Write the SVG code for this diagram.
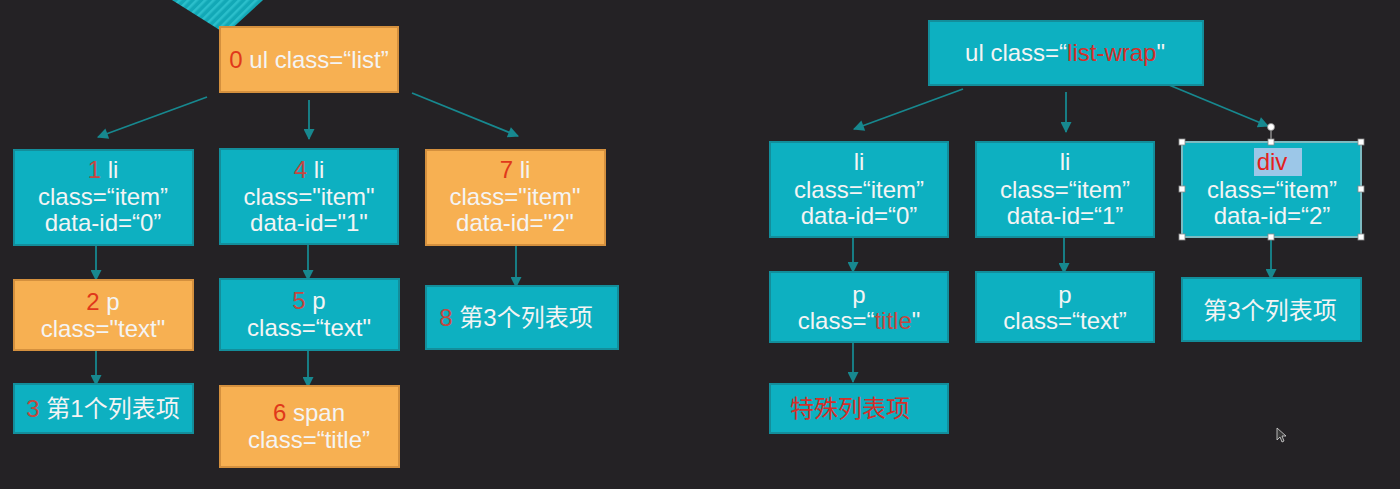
<svg xmlns="http://www.w3.org/2000/svg" width="1400" height="489" viewBox="0 0 1400 489">
<defs>
<style>
.t{fill:#0DB0C1;stroke:#138E9B;stroke-width:2}
.o{fill:#F7B052;stroke:#D4903E;stroke-width:2}
text{font-family:"Liberation Sans","Noto Sans CJK SC",sans-serif;font-size:24px;fill:#F4F4F4;text-anchor:middle}
.r{fill:#E0381A}
.rt{fill:#C4473F}
.rw{fill:#D42F2A}
.c{stroke:#17888F;stroke-width:1.8;fill:none;marker-end:url(#ah)}
.h{fill:#FFFFFF;stroke:#8A8A8A;stroke-width:0.8}
</style>
<marker id="ah" viewBox="0 0 10 10" refX="9" refY="5" markerWidth="12" markerHeight="11" markerUnits="userSpaceOnUse" orient="auto">
<path d="M0,0 L10,5 L0,10 z" fill="#17888F"/>
</marker>
<pattern id="stripes" width="6" height="6" patternUnits="userSpaceOnUse" patternTransform="rotate(45)">
<rect width="6" height="6" fill="#12A8B6"/>
<rect width="2.5" height="6" fill="#2BBFCB"/>
</pattern>
</defs>
<rect width="1400" height="489" fill="#242225"/>
<polygon points="172,0 263,0 226,34" fill="url(#stripes)"/>

<g id="connectors">
<line class="c" x1="207" y1="97" x2="98" y2="137"/>
<line class="c" x1="309" y1="100" x2="309" y2="139"/>
<line class="c" x1="412" y1="93" x2="518" y2="136"/>
<line class="c" x1="96" y1="245" x2="96" y2="280"/>
<line class="c" x1="96" y1="350" x2="96" y2="385"/>
<line class="c" x1="308" y1="245" x2="308" y2="280"/>
<line class="c" x1="308" y1="350" x2="308" y2="387"/>
<line class="c" x1="516" y1="245" x2="516" y2="287"/>
<line class="c" x1="963" y1="89" x2="854" y2="129"/>
<line class="c" x1="1066" y1="92" x2="1066" y2="132"/>
<line class="c" x1="1169" y1="85" x2="1268" y2="126"/>
<line class="c" x1="853" y1="237" x2="853" y2="272"/>
<line class="c" x1="853" y1="342" x2="853" y2="382"/>
<line class="c" x1="1064" y1="237" x2="1064" y2="273"/>
<line class="c" x1="1271" y1="237" x2="1271" y2="279"/>
</g>

<g id="n0"><rect class="o" x="220" y="27" width="178" height="65"/>
<text x="309" y="68"><tspan class="r">0</tspan> ul class=“list”</text></g>

<g id="n1"><rect class="t" x="14" y="150" width="179" height="95"/>
<text x="103" y="178"><tspan class="rt">1</tspan> li</text>
<text x="103" y="205">class=“item”</text>
<text x="103" y="231">data-id=“0”</text></g>

<g id="n4"><rect class="t" x="220" y="149" width="178" height="95"/>
<text x="309" y="178"><tspan class="rt">4</tspan> li</text>
<text x="309" y="205">class="item"</text>
<text x="309" y="231">data-id="1"</text></g>

<g id="n7"><rect class="o" x="426" y="150" width="179" height="95"/>
<text x="515" y="178"><tspan class="r">7</tspan> li</text>
<text x="515" y="205">class="item"</text>
<text x="515" y="231">data-id="2"</text></g>

<g id="n2"><rect class="o" x="14" y="280" width="179" height="70"/>
<text x="103" y="310"><tspan class="r">2</tspan> p</text>
<text x="103" y="337">class="text"</text></g>

<g id="n3"><rect class="t" x="14" y="384" width="179" height="49"/>
<text x="103" y="417"><tspan class="rt">3</tspan> 第1个列表项</text></g>

<g id="n5"><rect class="t" x="220" y="279" width="179" height="71"/>
<text x="309" y="309"><tspan class="rt">5</tspan> p</text>
<text x="309" y="336">class=“text"</text></g>

<g id="n6"><rect class="o" x="220" y="386" width="179" height="81"/>
<text x="309" y="421"><tspan class="r">6</tspan> span</text>
<text x="309" y="448">class=“title”</text></g>

<g id="n8"><rect class="t" x="426" y="286" width="192" height="63"/>
<text x="516" y="326"><tspan class="rt">8</tspan> 第3个列表项</text></g>

<g id="m0"><rect class="t" x="929" y="21" width="274" height="64"/>
<text x="1065" y="61">ul class=“<tspan class="rw">list-wrap</tspan>"</text></g>

<g id="m1"><rect class="t" x="770" y="142" width="178" height="95"/>
<text x="859" y="170">li</text>
<text x="859" y="198">class=“item”</text>
<text x="859" y="224">data-id=“0”</text></g>

<g id="m2"><rect class="t" x="976" y="142" width="178" height="95"/>
<text x="1065" y="170">li</text>
<text x="1065" y="198">class=“item”</text>
<text x="1065" y="224">data-id=“1”</text></g>

<g id="m3"><rect class="t" x="1182" y="142" width="179" height="95"/>
<rect x="1254" y="148" width="48" height="28" fill="#9CC7E8"/>
<text x="1272" y="170" style="fill:#E3211C">div</text>
<text x="1272" y="198">class=“item”</text>
<text x="1272" y="224">data-id=“2”</text>
<rect x="1182" y="142" width="179" height="95" fill="none" stroke="#E8E8E8" stroke-width="1"/>
<line x1="1271" y1="130" x2="1271" y2="142" stroke="#BBBBBB" stroke-width="1"/>
<circle cx="1271" cy="127" r="3.5" fill="#FFFFFF" stroke="#8A8A8A" stroke-width="0.8"/>
<rect class="h" x="1179" y="139" width="6" height="6"/>
<rect class="h" x="1268" y="139" width="6" height="6"/>
<rect class="h" x="1358" y="139" width="6" height="6"/>
<rect class="h" x="1179" y="186" width="6" height="6"/>
<rect class="h" x="1358" y="186" width="6" height="6"/>
<rect class="h" x="1179" y="234" width="6" height="6"/>
<rect class="h" x="1268" y="234" width="6" height="6"/>
<rect class="h" x="1358" y="234" width="6" height="6"/></g>

<g id="m4"><rect class="t" x="770" y="272" width="178" height="70"/>
<text x="859" y="303">p</text>
<text x="859" y="329">class=“<tspan class="rt">title</tspan>"</text></g>

<g id="m5"><rect class="t" x="976" y="272" width="178" height="70"/>
<text x="1065" y="303">p</text>
<text x="1065" y="329">class=“text”</text></g>

<g id="m6"><rect class="t" x="1182" y="278" width="179" height="63"/>
<text x="1270" y="319">第3个列表项</text></g>

<g id="m7"><rect class="t" x="770" y="384" width="178" height="49"/>
<text x="850" y="417" class="rw">特殊列表项</text></g>

<path d="M1277,428 L1277,440 L1280,437 L1282,442 L1284,441 L1282,436 L1286,436 Z" fill="#3A3A3A" stroke="#D8D8D8" stroke-width="0.8"/>
</svg>
